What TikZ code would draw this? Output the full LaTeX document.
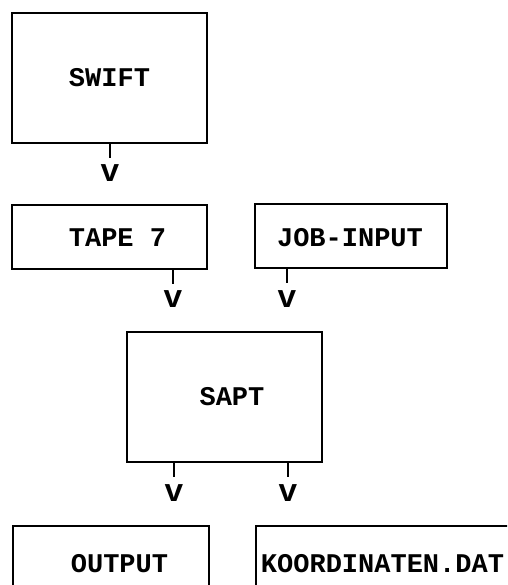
\documentclass[tikz,border=0pt]{standalone}
\usepackage{fontspec}
\setmonofont{Liberation Mono}
\begin{document}
\begin{tikzpicture}[x=1pt,y=-1pt,
  box/.style={draw, line width=1.9pt, rectangle, inner sep=0pt},
  lbl/.style={font=\fontsize{27}{27}\selectfont\ttfamily\bfseries, inner sep=0pt, anchor=base},
  tip/.style={font=\fontsize{32}{32}\selectfont\ttfamily\bfseries, inner sep=0pt, anchor=base},
  stub/.style={line width=1.9pt}]
\useasboundingbox (0,0) rectangle (507,585);
\clip (0,0) rectangle (507,585);
% boxes
\node[box, minimum width=195pt, minimum height=130pt] (swift) at (109.5,78) {};
\node[box, minimum width=195pt, minimum height=64pt] (tape) at (109.5,237) {};
\node[box, minimum width=192pt, minimum height=64pt] (job) at (351,236) {};
\node[box, minimum width=195pt, minimum height=130pt] (sapt) at (224.5,397) {};
\node[box, minimum width=196pt, minimum height=100pt] (out) at (111,576) {};
\node[box, minimum width=300pt, minimum height=100pt] (koord) at (406,576) {};
% texts
\node[lbl] (tswift) at (109.5,87) {SWIFT};
\node[lbl] (ttape) at (117.5,246) {TAPE 7};
\node[lbl] (tjob) at (350,246) {JOB-INPUT};
\node[lbl] (tsapt) at (232,405) {SAPT};
\node[lbl] (tout) at (119.5,572) {OUTPUT};
\node[lbl] (tkoord) at (382.5,572) {KOORDINATEN.DAT};
% arrow tips
\node[tip] (v1) at (110,182) {v};
\node[tip] (v2) at (173,307) {v};
\node[tip] (v3) at (287,307) {v};
\node[tip] (v4) at (174,501) {v};
\node[tip] (v5) at (288,501) {v};
% stubs
\draw[stub] (swift.south -| v1) -- ++(0,14);
\draw[stub] (tape.south -| v2) -- ++(0,14);
\draw[stub] (job.south -| v3) -- ++(0,14);
\draw[stub] (sapt.south -| v4) -- ++(0,14);
\draw[stub] (sapt.south -| v5) -- ++(0,14);
\end{tikzpicture}
\end{document}
